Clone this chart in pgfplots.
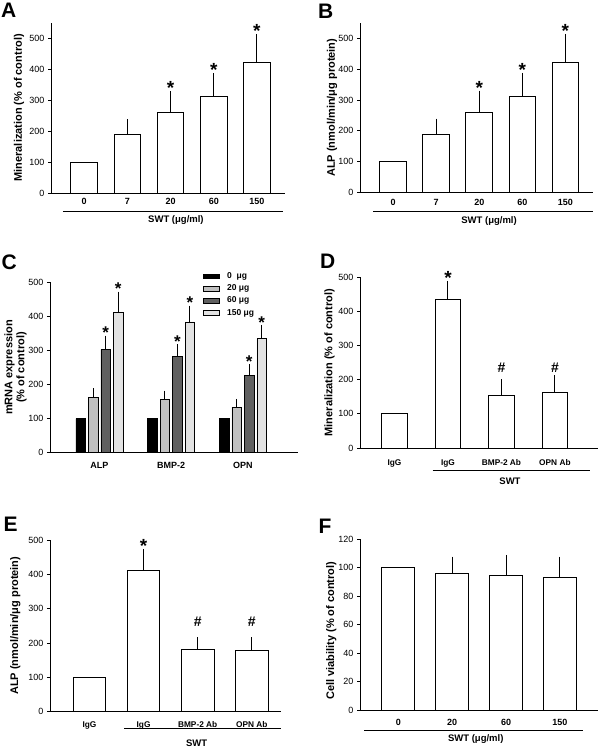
\documentclass[border=0pt]{standalone}
\usepackage{fontspec}
\setmainfont{Liberation Sans}
\usepackage{pgfplots}
\pgfplotsset{compat=1.18}
\definecolor{lg}{HTML}{C0C0C0}
\definecolor{dg}{HTML}{606060}
\definecolor{vlg}{HTML}{E2E2E2}
\pgfplotsset{
  panel/.style={
    scale only axis, anchor=south west, clip=false,
    axis lines=left, axis line style={-, line width=0.8pt},
    tick align=outside, major tick length=3pt, ytick pos=left,
    ymin=0,
    ytick style={line width=0.8pt, black},
    xtick style={draw=none},
    /pgf/number format/assume math mode=true,
    yticklabel style={font=\fontsize{9}{9}\selectfont},
    xticklabel style={font=\bfseries\fontsize{9}{9}\selectfont},
    ylabel style={font=\bfseries\fontsize{11}{12}\selectfont, anchor=center, align=center},
    xtick=data, ybar,
  },
  ctrlbar/.style={fill=white, draw=black, line width=1pt, bar shift=0pt},
  whitebar/.style={fill=white, draw=black, line width=1pt, bar shift=0pt,
    error bars/y dir=plus, error bars/y explicit,
    error bars/error bar style={line width=1pt, black},
    error bars/error mark options={line width=1pt, mark size=4pt, black}},
  cbar/.style={fill=#1, draw=black, line width=0.6pt,
    error bars/y dir=plus, error bars/y explicit,
    error bars/error bar style={line width=0.9pt, black},
    error bars/error mark options={line width=0.9pt, mark size=2.7pt, black}},
}
\tikzset{
  sig/.style={anchor=base, inner sep=0pt, yshift=0.4pt, font=\bfseries\fontsize{19}{19}\selectfont},
  sigc/.style={anchor=base, inner sep=0pt, yshift=-0.4pt, font=\bfseries\fontsize{17}{17}\selectfont},
  hashm/.style={anchor=center, inner sep=0pt, font=\bfseries\fontsize{14}{14}\selectfont},
  swt/.style={anchor=center, inner sep=0pt, font=\bfseries\fontsize{9.5}{10}\selectfont},
}
\newcommand\panellabel[2]{\node[anchor=north west, inner sep=0pt, font=\bfseries\fontsize{21}{21}\selectfont] at #1 {#2};}
\begin{document}
\begin{tikzpicture}
\path[use as bounding box] (0,0) rectangle (600pt,-748pt);

% ---------- A ----------
\begin{axis}[panel, at={(51pt,-193pt)}, width=234pt, height=170.3pt,
  ymax=550, ytick={0,100,...,500}, xmin=-0.77, xmax=4.65,
  xtick={0,1,2,3,4}, xticklabels={0,7,20,60,150}, xticklabel style={yshift=1pt},
  bar width=26.7pt,
  ylabel={Mineralization (\% of control)},
  ylabel style={at={(axis description cs:-0.137,0.5)}}]
\addplot[ctrlbar] coordinates {(0,100)};
\addplot[whitebar] coordinates {(1,189) +- (0,37) (2,261) +- (0,55) (3,311) +- (0,63) (4,421) +- (0,80)};
\node[sig] at (axis cs:2,316) {*};
\node[sig] at (axis cs:3,374) {*};
\node[sig] at (axis cs:4,501) {*};
\draw[line width=0.8pt] (rel axis cs:0.051,-0.106) -- (rel axis cs:0.991,-0.106);
\node[swt] at (rel axis cs:0.534,-0.159) {SWT (μg/ml)};
\end{axis}

% ---------- B ----------
\begin{axis}[panel, at={(360pt,-192.7pt)}, width=233pt, height=170pt,
  ymax=550, ytick={0,100,...,500}, xmin=-0.77, xmax=4.64,
  xtick={0,1,2,3,4}, xticklabels={0,7,20,60,150}, xticklabel style={yshift=0pt},
  bar width=26.7pt,
  ylabel={ALP (nmol/min/μg protein)},
  ylabel style={at={(axis description cs:-0.12,0.5)}}]
\addplot[ctrlbar] coordinates {(0,100)};
\addplot[whitebar] coordinates {(1,189) +- (0,38) (2,261) +- (0,56) (3,312) +- (0,63) (4,421) +- (0,80)};
\node[sig] at (axis cs:2,317) {*};
\node[sig] at (axis cs:3,375) {*};
\node[sig] at (axis cs:4,501) {*};
\draw[line width=0.8pt] (rel axis cs:0.057,-0.108) -- (rel axis cs:0.999,-0.108);
\node[swt] at (rel axis cs:0.554,-0.168) {SWT (μg/ml)};
\end{axis}

% ---------- C ----------
\begin{axis}[panel, at={(50pt,-452.7pt)}, width=248pt, height=170.4pt,
  ymax=500, ytick={0,100,...,500}, xmin=-0.69, xmax=2.77,
  xtick={0,1,2}, xticklabels={ALP,BMP-2,OPN}, xticklabel style={yshift=-3pt},
  ybar=3pt, bar width=9.5pt,
  ylabel={mRNA expression\\(\% of control)},
  ylabel style={at={(axis description cs:-0.139,0.5)}},
  legend style={at={(rel axis cs:0.616,1.07)}, anchor=north west, draw=none, fill=none,
    inner sep=0pt, font=\bfseries\fontsize{8.5}{8.5}\selectfont, row sep=0.8pt,
    /tikz/every odd column/.append style={column sep=6pt}},
  legend cell align=left,
  legend image code/.code={\draw[#1, line width=0.6pt] (0pt,-2.3pt) rectangle (15.6pt,2.3pt);}]
\addplot[fill=black, draw=black, line width=0.6pt] coordinates {(0,100) (1,100) (2,100)};
\addplot[cbar=lg] coordinates {(0,162) +- (0,19) (1,156) +- (0,18) (2,134) +- (0,16)};
\addplot[cbar=dg] coordinates {(0,303) +- (0,33) (1,282) +- (0,28) (2,226) +- (0,26)};
\addplot[cbar=vlg] coordinates {(0,411) +- (0,54) (1,384) +- (0,40) (2,335) +- (0,32)};
\legend{0~~μg,20~μg,60~μg,150~μg}
\node[sigc, xshift=6.25pt] at (axis cs:0,336) {*};
\node[sigc, xshift=18.75pt] at (axis cs:0,465) {*};
\node[sigc, xshift=6.25pt] at (axis cs:1,310) {*};
\node[sigc, xshift=18.75pt] at (axis cs:1,424) {*};
\node[sigc, xshift=6.25pt] at (axis cs:2,252) {*};
\node[sigc, xshift=18.75pt] at (axis cs:2,367) {*};
\end{axis}

% ---------- D ----------
\begin{axis}[panel, at={(360pt,-448pt)}, width=237.7pt, height=170.7pt,
  ymax=500, ytick={0,100,...,500}, xmin=-0.645, xmax=3.8,
  xtick={0,1,2,3}, xticklabels={IgG,IgG,BMP-2 Ab,OPN Ab},
  xticklabel style={yshift=-4.7pt, font=\bfseries\fontsize{8.3}{8.3}\selectfont},
  bar width=25.6pt,
  ylabel={Mineralization (\% of control)},
  ylabel style={at={(axis description cs:-0.128,0.5)}}]
\addplot[ctrlbar] coordinates {(0,100)};
\addplot[whitebar] coordinates {(1,434) +- (0,44) (2,154) +- (0,35) (3,162) +- (0,40)};
\node[sig] at (axis cs:1,478) {*};
\node[hashm] at (axis cs:2,234) {\#};
\node[hashm] at (axis cs:3,234) {\#};
\draw[line width=0.8pt] (rel axis cs:0.306,-0.133) -- (rel axis cs:0.968,-0.133);
\node[swt] at (rel axis cs:0.631,-0.197) {SWT};
\end{axis}

% ---------- E ----------
\begin{axis}[panel, at={(50pt,-711.3pt)}, width=231pt, height=171pt,
  ymax=500, ytick={0,100,...,500}, xmin=-0.73, xmax=3.54,
  xtick={0,1,2,3}, xticklabels={IgG,IgG,BMP-2 Ab,OPN Ab},
  xticklabel style={yshift=-3.5pt, font=\bfseries\fontsize{8.3}{8.3}\selectfont},
  bar width=32.7pt,
  ylabel={ALP (nmol/min/μg protein)},
  ylabel style={at={(axis description cs:-0.15,0.5)}}]
\addplot[ctrlbar] coordinates {(0,100)};
\addplot[whitebar] coordinates {(1,411) +- (0,51) (2,181) +- (0,24) (3,177) +- (0,28)};
\node[sig] at (axis cs:1,462) {*};
\node[hashm] at (axis cs:2,262) {\#};
\node[hashm] at (axis cs:3,262) {\#};
\draw[line width=0.8pt] (rel axis cs:0.322,-0.099) -- (rel axis cs:1.0,-0.099);
\node[swt] at (rel axis cs:0.635,-0.187) {SWT};
\end{axis}

% ---------- F ----------
\begin{axis}[panel, at={(360pt,-710.3pt)}, width=237.7pt, height=171pt,
  ymax=120, ytick={0,20,...,120}, xmin=-0.71, xmax=3.7,
  xtick={0,1,2,3}, xticklabels={0,20,60,150}, xticklabel style={yshift=-2pt},
  bar width=33.3pt,
  ylabel={Cell viability (\% of control)},
  ylabel style={at={(axis description cs:-0.121,0.465)}}]
\addplot[ctrlbar] coordinates {(0,100)};
\addplot[whitebar] coordinates {(1,96) +- (0,9) (2,94.7) +- (0,11.5) (3,93) +- (0,12)};
\draw[line width=0.8pt] (rel axis cs:0.018,-0.115) -- (rel axis cs:0.94,-0.115);
\node[swt] at (rel axis cs:0.487,-0.168) {SWT (μg/ml)};
\end{axis}

\panellabel{(1pt,-3pt)}{A}
\panellabel{(318pt,-4pt)}{B}
\panellabel{(1.5pt,-255pt)}{C}
\panellabel{(320pt,-254pt)}{D}
\panellabel{(3.5pt,-517pt)}{E}
\panellabel{(318.5pt,-519pt)}{F}
\end{tikzpicture}
\end{document}
